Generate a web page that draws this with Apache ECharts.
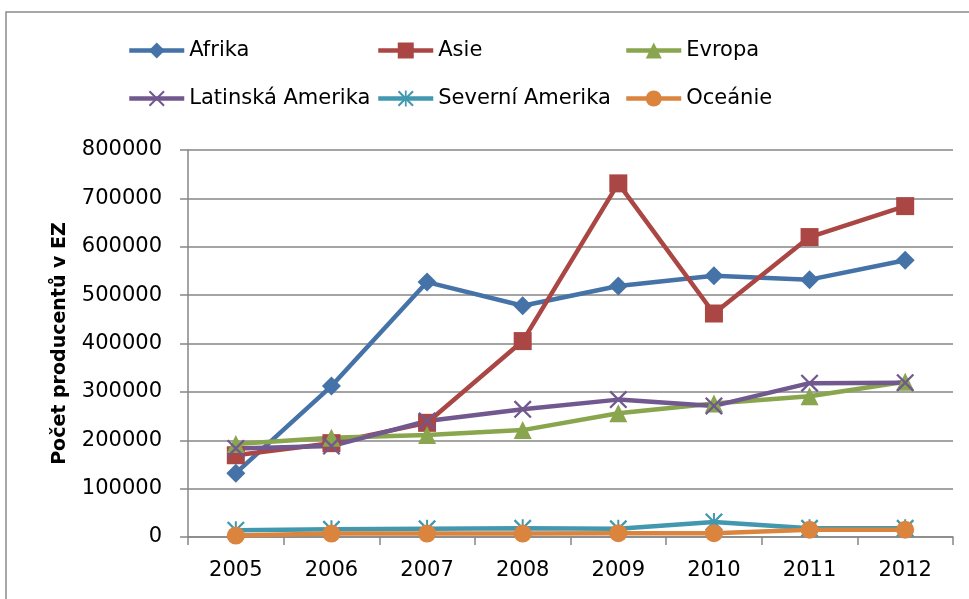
<!DOCTYPE html>
<html>
<head>
<meta charset="utf-8">
<script src="https://cdn.jsdelivr.net/npm/echarts@6/dist/echarts.min.js"></script>
<style>
html, body { margin: 0; padding: 0; background: #ffffff; }
#chart { width: 969px; height: 599px; }
</style>
</head>
<body>
<div id="chart"></div>
<script>
// Years on the category axis
const years = ['2005', '2006', '2007', '2008', '2009', '2010', '2011', '2012'];

// Number of producers per region
const afrika = [132000, 312000, 527000, 478000, 519000, 540000, 532000, 572000];
const asie = [169000, 194000, 236000, 405000, 731000, 462000, 620000, 684000];
const evropa = [192000, 205000, 211000, 221000, 256000, 276000, 291000, 321000];
const latinskaAmerika = [183000, 188000, 240000, 264000, 284000, 271000, 318000, 319000];
const severniAmerika = [14000, 16000, 17000, 18000, 17000, 31000, 18000, 18000];
const oceanie = [3000, 7000, 7000, 7000, 8000, 8000, 15000, 15000];

// Value axis ticks
const yTicks = [0, 100000, 200000, 300000, 400000, 500000, 600000, 700000, 800000];

const seriesNames = ['Afrika', 'Asie', 'Evropa', 'Latinská Amerika', 'Severní Amerika', 'Oceánie'];
const seriesData = [afrika, asie, evropa, latinskaAmerika, severniAmerika, oceanie];
const colors = ['#4572A7', '#AA4643', '#89A54E', '#71588F', '#4198AF', '#DB843D'];

// Thin "x" and asterisk marker shapes
const crossPath = 'path://M0,0.9L0.9,0L10,9.1L9.1,10Z M10,0.9L0.9,10L0,9.1L9.1,0Z';
const starPath = 'path://M0,0.9L0.9,0L10,9.1L9.1,10Z M10,0.9L0.9,10L0,9.1L9.1,0Z M4.45,0L5.55,0L5.55,10L4.45,10Z';
const symbols = ['diamond', 'rect', 'triangle', crossPath, starPath, 'circle'];
const symbolSizes = [19, 18, 18, 18, 18, 18];

const FONT = '"DejaVu Sans", "Liberation Sans", sans-serif';

// One legend block per series, laid out as a 3x2 table
const legendLeft = [127, 376, 624, 127, 376, 624];
const legendTop = [40, 40, 40, 88, 88, 88];
const legends = seriesNames.map((name, i) => ({
  data: [name],
  left: legendLeft[i],
  top: legendTop[i],
  padding: 0,
  itemWidth: 55,
  itemHeight: 20,
  itemGap: 0,
  selectedMode: false,
  lineStyle: { width: 4.5 },
  textStyle: { fontFamily: FONT, fontSize: 21, color: '#000000', padding: [0, 0, 0, 0] }
}));

const series = seriesNames.map((name, i) => ({
  name: name,
  type: 'line',
  data: seriesData[i],
  symbol: symbols[i],
  symbolSize: symbolSizes[i],
  showAllSymbol: true,
  animation: false,
  lineStyle: { color: colors[i], width: 4.5 },
  itemStyle: { color: colors[i] },
  emphasis: { disabled: true }
}));

const chart = echarts.init(document.getElementById('chart'), null, { renderer: 'canvas' });
chart.setOption({
  backgroundColor: '#ffffff',
  animation: false,
  color: colors,
  legend: legends,
  grid: { left: 188, right: 16, top: 150, bottom: 62, containLabel: false },
  graphic: [{
    type: 'rect',
    shape: { x: 6, y: 12, width: 1000, height: 1000 },
    style: { fill: 'none', stroke: '#8a8a8a', lineWidth: 1.5 },
    silent: true,
    z: -10
  }],
  xAxis: {
    type: 'category',
    data: years,
    boundaryGap: true,
    axisLine: { lineStyle: { color: '#868686', width: 1.5 } },
    axisTick: { show: true, length: 8, lineStyle: { color: '#868686', width: 1.5 } },
    axisLabel: { fontFamily: FONT, fontSize: 21, color: '#000000', margin: 23 },
    splitLine: { show: false }
  },
  yAxis: {
    type: 'value',
    min: yTicks[0],
    max: yTicks[yTicks.length - 1],
    interval: yTicks[1] - yTicks[0],
    name: 'Počet producentů v EZ',
    nameLocation: 'middle',
    nameGap: 118,
    nameTextStyle: { fontFamily: FONT, fontSize: 19, fontWeight: 'bold', color: '#000000' },
    axisLine: { show: true, lineStyle: { color: '#868686', width: 1.5 } },
    axisTick: { show: true, length: 8, lineStyle: { color: '#868686', width: 1.5 } },
    axisLabel: {
      fontFamily: FONT, fontSize: 21, color: '#000000', margin: 26,
      formatter: (v) => String(v)
    },
    splitLine: { show: true, lineStyle: { color: '#868686', width: 1.5 } }
  },
  series: series
});
</script>
</body>
</html>
